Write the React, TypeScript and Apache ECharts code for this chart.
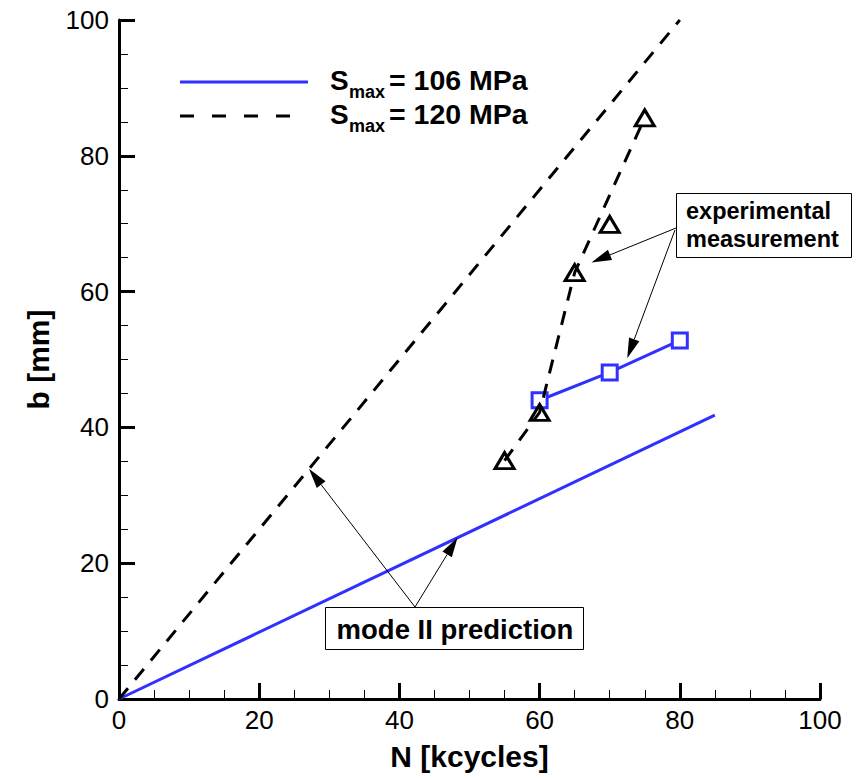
import React, { useEffect, useRef } from "react";
import * as echarts from "echarts";

// Crack length b versus load cycles N for two maximum stress levels
const FONT = "'Liberation Sans', Arial, Helvetica, sans-serif";
const BLUE = "#3030ff";

// mode II prediction lines
const predN106 = [0, 85];
const predB106 = [0, 41.8];
const predN120 = [0, 80];
const predB120 = [0, 100];

// experimental measurements, S_max = 106 MPa
const expN106 = [60, 70, 80];
const expB106 = [44.0, 48.1, 52.8];

// experimental measurements, S_max = 120 MPa
const expN120 = [55, 60, 65, 70, 75];
const expB120 = [35.1, 42.2, 62.8, 69.9, 85.6];
const trendN120 = [55, 60, 65, 75];
const trendB120 = [35.1, 42.2, 62.8, 85.6];

// axis ticks
const xTicks = [0, 20, 40, 60, 80, 100];
const yTicks = [0, 20, 40, 60, 80, 100];

// arrow targets in data coordinates
const modeArrowTargets = [
  [27.1, 33.9],
  [48.3, 23.8],
];
const expArrowTargets = [
  [67.4, 64.3],
  [72.5, 50.2],
];

const zip = (a: number[], b: number[]) => a.map((v, i) => [v, b[i]]);

function arrow(from: number[], to: number[], key: string) {
  const dx = to[0] - from[0];
  const dy = to[1] - from[1];
  const len = Math.hypot(dx, dy);
  const ux = dx / len;
  const uy = dy / len;
  const headLen = 20;
  const halfW = 5.5;
  const bx = to[0] - ux * headLen;
  const by = to[1] - uy * headLen;
  return [
    {
      type: "line",
      id: key + "-shaft",
      z: 20,
      shape: { x1: from[0], y1: from[1], x2: bx, y2: by },
      style: { stroke: "#000", lineWidth: 1 },
    },
    {
      type: "polygon",
      id: key + "-head",
      z: 20,
      shape: {
        points: [
          [to[0], to[1]],
          [bx - uy * halfW, by + ux * halfW],
          [bx + uy * halfW, by - ux * halfW],
        ],
      },
      style: { fill: "#000" },
    },
  ];
}

function legendEntry(y: number, value: string, dashed: boolean, key: string) {
  return [
    {
      type: "line",
      id: key + "-line",
      z: 20,
      shape: { x1: 180, y1: y, x2: dashed ? 292 : 308, y2: y },
      style: {
        stroke: dashed ? "#000" : BLUE,
        lineWidth: 3,
        lineDash: dashed ? [14, 18] : null,
      },
    },
    {
      type: "text",
      id: key + "-s",
      z: 20,
      x: 330,
      y: y - 2,
      style: {
        text: "S",
        fontSize: 28,
        fontWeight: "bold",
        fontFamily: FONT,
        fill: "#000",
        verticalAlign: "middle",
      },
    },
    {
      type: "text",
      id: key + "-sub",
      z: 20,
      x: 349,
      y: y + 10,
      style: {
        text: "max",
        fontSize: 18,
        fontWeight: "bold",
        fontFamily: FONT,
        fill: "#000",
        verticalAlign: "middle",
      },
    },
    {
      type: "text",
      id: key + "-val",
      z: 20,
      x: 389,
      y: y - 2,
      style: {
        text: "= " + value,
        fontSize: 28.5,
        fontWeight: "bold",
        fontFamily: FONT,
        fill: "#000",
        verticalAlign: "middle",
      },
    },
  ];
}

export default function App() {
  const ref = useRef<HTMLDivElement>(null);

  useEffect(() => {
    if (!ref.current) return;
    const chart = echarts.init(ref.current, null, { renderer: "svg" });

    const axisCommon = {
      type: "value" as const,
      min: 0,
      max: 100,
      interval: 20,
      nameLocation: "middle" as const,
      nameTextStyle: {
        fontSize: 30,
        fontWeight: "bold" as const,
        color: "#000",
        fontFamily: FONT,
      },
      axisLine: { show: true, onZero: false, lineStyle: { color: "#000", width: 3 } },
      axisTick: { show: true, inside: true, length: 16, lineStyle: { color: "#000", width: 3 } },
      minorTick: { show: true, splitNumber: 4, length: 9, lineStyle: { color: "#000", width: 1 } },
      splitLine: { show: false },
      minorSplitLine: { show: false },
    };

    chart.setOption({
      animation: false,
      backgroundColor: "#fff",
      grid: { left: 119, right: 36, top: 20, bottom: 80, outerBoundsMode: "none" },
      xAxis: {
        ...axisCommon,
        name: "N [kcycles]",
        nameGap: 42,
        axisLabel: {
          fontSize: 26,
          color: "#000",
          fontFamily: FONT,
          margin: 8,
          formatter: (v: number) => (xTicks.includes(v) ? String(v) : ""),
        },
      },
      yAxis: {
        ...axisCommon,
        name: "b [mm]",
        nameGap: 66,
        axisLabel: {
          fontSize: 26,
          color: "#000",
          fontFamily: FONT,
          margin: 10,
          formatter: (v: number) => (yTicks.includes(v) ? String(v) : ""),
        },
      },
      series: [
        {
          name: "prediction 106",
          type: "line",
          data: zip(predN106, predB106),
          symbol: "none",
          lineStyle: { color: BLUE, width: 3 },
          z: 2,
        },
        {
          name: "prediction 120",
          type: "line",
          data: zip(predN120, predB120),
          symbol: "none",
          lineStyle: { color: "#000", width: 3, type: [14, 11] },
          z: 2,
        },
        {
          name: "experiment 106",
          type: "line",
          data: zip(expN106, expB106),
          symbol: "rect",
          symbolSize: 15,
          showAllSymbol: true,
          lineStyle: { color: BLUE, width: 3 },
          itemStyle: { color: "#fff", borderColor: BLUE, borderWidth: 3 },
          z: 3,
        },
        {
          name: "trend 120",
          type: "line",
          data: zip(trendN120, trendB120),
          symbol: "none",
          lineStyle: { color: "#000", width: 3, type: [14, 11] },
          z: 4,
        },
        {
          name: "experiment 120",
          type: "scatter",
          data: zip(expN120, expB120),
          symbol: "triangle",
          symbolSize: [19, 16],
          itemStyle: {
            color: "rgba(255,255,255,0)",
            borderColor: "#000",
            borderWidth: 3,
            opacity: 1,
          },
          z: 5,
        },
      ],
    });

    const px = (p: number[]) => chart.convertToPixel({ gridIndex: 0 }, p) as number[];

    const graphics: any[] = [
      ...legendEntry(82, "106 MPa", false, "leg106"),
      ...legendEntry(116, "120 MPa", true, "leg120"),
      {
        type: "rect",
        id: "exp-box",
        z: 19,
        shape: { x: 676.5, y: 193.5, width: 175, height: 64 },
        style: { fill: "#fff", stroke: "#000", lineWidth: 1 },
      },
      {
        type: "text",
        id: "exp-text",
        z: 21,
        x: 686,
        y: 225,
        style: {
          text: "experimental\nmeasurement",
          fontSize: 23.5,
          lineHeight: 28,
          fontWeight: "bold",
          fontFamily: FONT,
          fill: "#000",
          verticalAlign: "middle",
        },
      },
      {
        type: "rect",
        id: "mode-box",
        z: 19,
        shape: { x: 325.5, y: 607.5, width: 258, height: 42 },
        style: { fill: "#fff", stroke: "#000", lineWidth: 1 },
      },
      {
        type: "text",
        id: "mode-text",
        z: 21,
        x: 455,
        y: 629,
        style: {
          text: "mode II prediction",
          fontSize: 27.5,
          fontWeight: "bold",
          fontFamily: FONT,
          fill: "#000",
          align: "center",
          verticalAlign: "middle",
        },
      },
      ...arrow([676, 228], px(expArrowTargets[0]), "exp-a1"),
      ...arrow([675, 230], px(expArrowTargets[1]), "exp-a2"),
      ...arrow([415, 607], px(modeArrowTargets[0]), "mode-a1"),
      ...arrow([415, 607], px(modeArrowTargets[1]), "mode-a2"),
    ];

    chart.setOption({ graphic: graphics });

    return () => chart.dispose();
  }, []);

  return (
    <div
      ref={ref}
      style={{ position: "absolute", left: 0, top: 0, width: 856, height: 779, background: "#fff" }}
    />
  );
}
